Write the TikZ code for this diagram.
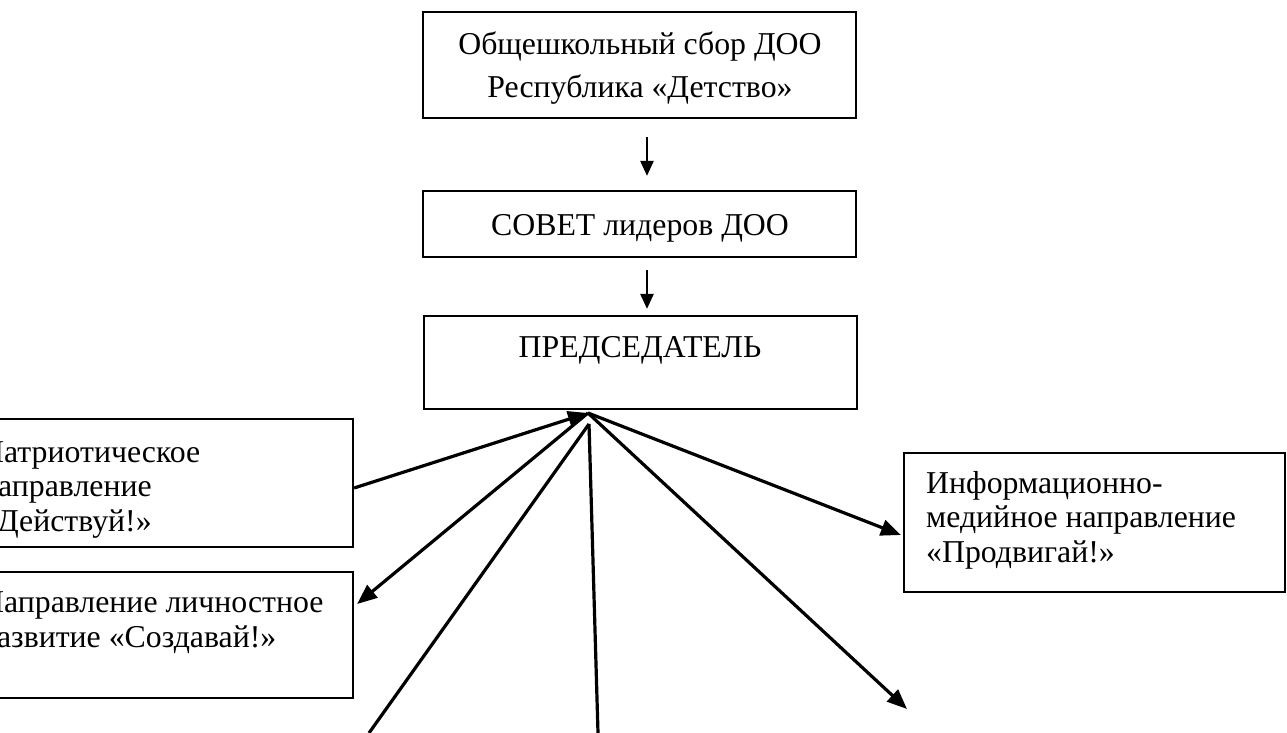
\documentclass[tikz,border=0pt]{standalone}
\usepackage{fontspec}
\setmainfont{Liberation Serif}
\usetikzlibrary{arrows.meta}
\begin{document}
\begin{tikzpicture}[x=1pt,y=-1pt,
  box/.style={draw,line width=2.2pt,inner sep=0pt},
  txt/.style={inner sep=0pt,font=\fontsize{31.8}{34.5}\selectfont,align=left},
  conn/.style={line width=3.2pt,-{Triangle[length=20pt,width=16pt]}},
  plain/.style={line width=3.2pt},
  down/.style={line width=2.5pt,-{Triangle[length=15pt,width=13pt]}}]
\useasboundingbox (0,0) rectangle (1287,733);
\clip (0,0) rectangle (1287,733);
\fill[white] (0,0) rectangle (1287,733);
% boxes
\node[box,minimum width=433pt,minimum height=106pt] (b1) at (639.5,65) {};
\node[box,minimum width=433pt,minimum height=66pt] (b2) at (639.5,224) {};
\node[box,minimum width=433pt,minimum height=93pt] (b3) at (640.5,362.5) {};
\node[box,minimum width=393pt,minimum height=128pt] (pat) at (156.5,483) {};
\node[box,minimum width=393pt,minimum height=126pt] (lic) at (156.5,635) {};
\node[box,minimum width=381pt,minimum height=139pt] (inf) at (1094.5,522.5) {};
% texts
\node[txt,anchor=base,align=center,font=\fontsize{31.8}{43}\selectfont] (t1) at (640,98) {Общешкольный сбор ДОО\\Республика «Детство»};
\node[txt,anchor=base] (t2) at (640,235) {СОВЕТ лидеров ДОО};
\node[txt,anchor=base] (t3) at (640,357) {ПРЕДСЕДАТЕЛЬ};
\node[txt,anchor=base west] (t4) at (-19,531) {Патриотическое\\направление\\«Действуй!»};
\node[txt,anchor=base west] (t5) at (-19,647) {Направление личностное\\развитие «Создавай!»};
\node[txt,anchor=base west] (t6) at (926,562) {Информационно-\\медийное направление\\«Продвигай!»};
% connectors
\coordinate (hub) at (588,413);
\coordinate (hubl) at (589,424);
\coordinate (bl) at (369,733);
\coordinate (bv) at (598,733);
\coordinate (br) at (907,709);
\draw[down,shorten <=18pt,shorten >=14pt] ([xshift=7.5pt]b1.south) -- ([xshift=7.5pt]b2.north);
\draw[down,shorten <=12pt,shorten >=6pt] ([xshift=7.5pt]b2.south) -- ([xshift=6.5pt]b3.north);
\draw[conn] ([yshift=-5pt]pat.east) -- (hub);
\draw[conn] (hub) -- ([yshift=31pt,xshift=3pt]lic.east);
\draw[plain] (bl) -- (hubl);
\draw[plain] (hubl) -- (bv);
\draw[conn] (hub) -- ([yshift=-12.5pt,xshift=-2pt]inf.west);
\draw[conn] (hub) -- (br);
\end{tikzpicture}
\end{document}
